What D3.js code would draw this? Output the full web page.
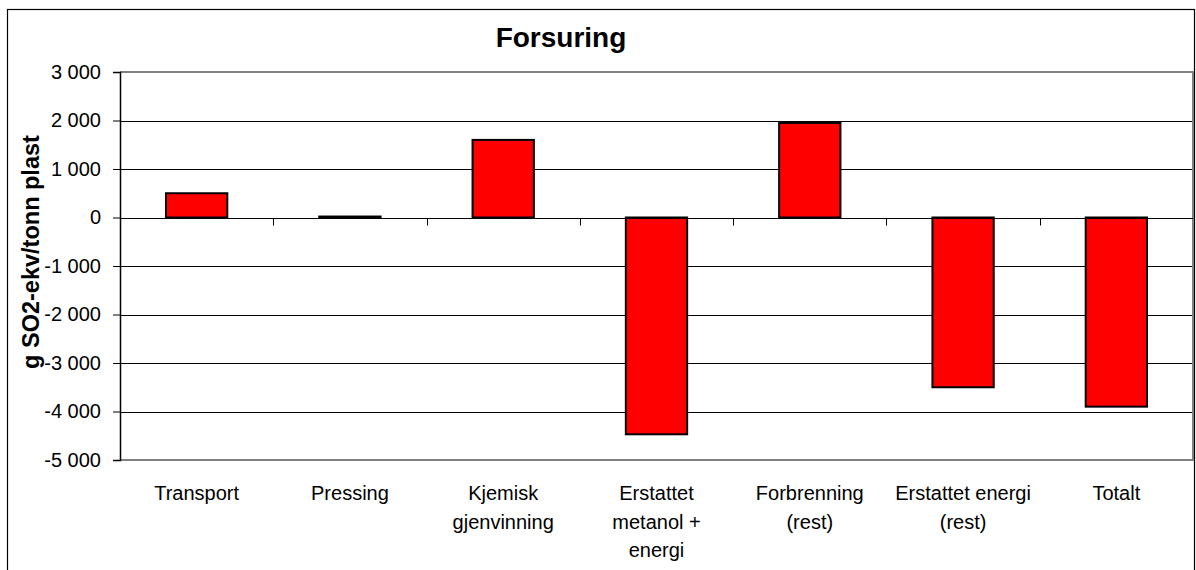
<!DOCTYPE html>
<html>
<head>
<meta charset="utf-8">
<script src="https://cdn.jsdelivr.net/npm/d3@7"></script>
<style>
  html, body { margin: 0; padding: 0; background: #fff; }
  svg { display: block; font-family: "Liberation Sans", Arial, sans-serif; }
</style>
</head>
<body>
<svg id="chart" width="1196" height="570"></svg>
<script>
// Forsuring (acidification) per process step, g SO2-ekv per tonn plast
const categories = [
  ["Transport"],
  ["Pressing"],
  ["Kjemisk", "gjenvinning"],
  ["Erstattet", "metanol +", "energi"],
  ["Forbrenning", "(rest)"],
  ["Erstattet energi", "(rest)"],
  ["Totalt"]
];
const values = [500, 20, 1600, -4470, 1950, -3500, -3900];
const yTicks = [3000, 2000, 1000, 0, -1000, -2000, -3000, -4000, -5000];
const titleText = "Forsuring";
const yTitle = "g SO2-ekv/tonn plast";

const svg = d3.select("#chart");
const plot = { left: 120, right: 1193, top: 72, bottom: 460 };

const keys = categories.map((c, i) => i);
const x = d3.scaleBand().domain(keys).range([plot.left, plot.right]).paddingInner(0).paddingOuter(0);
const y = d3.scaleLinear().domain([-5000, 3000]).range([plot.bottom, plot.top]);

// outer chart frame
svg.append("rect")
  .attr("x", 7.5).attr("y", 9.5)
  .attr("width", 1187).attr("height", 570)
  .attr("fill", "#fff").attr("stroke", "#000").attr("stroke-width", 1.2);

// title
svg.append("text")
  .attr("x", 561).attr("y", 47)
  .attr("text-anchor", "middle")
  .attr("font-size", 28).attr("font-weight", "bold")
  .text(titleText);

// horizontal gridlines
svg.append("g")
  .selectAll("line")
  .data(yTicks.filter(t => t !== 3000 && t !== -5000 && t !== 0))
  .join("line")
  .attr("x1", plot.left).attr("x2", plot.right)
  .attr("y1", d => Math.round(y(d)) + 0.5).attr("y2", d => Math.round(y(d)) + 0.5)
  .attr("stroke", "#000").attr("stroke-width", 1);

// plot area border (top, right, bottom)
svg.append("path")
  .attr("d", `M${plot.left},${plot.top} H${plot.right} V${plot.bottom} H${plot.left}`)
  .attr("fill", "none").attr("stroke", "#808080").attr("stroke-width", 2);

// bars
const barW = x.bandwidth() / 2.5;
svg.append("g")
  .selectAll("rect")
  .data(values)
  .join("rect")
  .attr("x", (d, i) => x(i) + (x.bandwidth() - barW) / 2)
  .attr("width", barW)
  .attr("y", d => y(Math.max(0, d)))
  .attr("height", d => Math.abs(y(d) - y(0)))
  .attr("fill", "#ff0000")
  .attr("stroke", "#000").attr("stroke-width", 2);

// zero line with category boundary ticks
const y0 = Math.round(y(0)) + 0.5;
svg.append("line")
  .attr("x1", plot.left).attr("x2", plot.right)
  .attr("y1", y0).attr("y2", y0)
  .attr("stroke", "#000").attr("stroke-width", 1);
svg.append("g")
  .selectAll("line")
  .data(keys.slice(1))
  .join("line")
  .attr("x1", d => Math.round(x(d)) + 0.5).attr("x2", d => Math.round(x(d)) + 0.5)
  .attr("y1", y0).attr("y2", y0 + 7)
  .attr("stroke", "#000").attr("stroke-width", 1);

// y axis
const fmt = v => {
  const s = d3.format(",")(Math.abs(v)).replace(/,/g, " ");
  return (v < 0 ? "-" : "") + s;
};
const yAxis = d3.axisLeft(y).tickValues(yTicks).tickSize(7).tickPadding(12).tickFormat(fmt);
const gy = svg.append("g")
  .attr("transform", `translate(${plot.left},0)`)
  .call(yAxis);
gy.select(".domain").attr("stroke", "#000").attr("stroke-width", 1.5);
gy.selectAll(".tick line").attr("stroke", "#000");
gy.selectAll(".tick text")
  .attr("font-size", 20)
  .attr("font-family", "Liberation Sans, Arial, sans-serif")
  .attr("fill", "#000");

// y title
svg.append("text")
  .attr("transform", "translate(39,252) rotate(-90)")
  .attr("text-anchor", "middle")
  .attr("font-size", 23.5).attr("font-weight", "bold")
  .text(yTitle);

// category labels
const lab = svg.append("g")
  .selectAll("text")
  .data(categories)
  .join("text")
  .attr("text-anchor", "middle")
  .attr("font-size", 20)
  .attr("x", (d, i) => x(i) + x.bandwidth() / 2)
  .attr("y", 500);
lab.selectAll("tspan")
  .data(d => d)
  .join("tspan")
  .attr("x", function () { return d3.select(this.parentNode).attr("x"); })
  .attr("dy", (d, i) => i === 0 ? 0 : 28.5)
  .text(d => d);
</script>
</body>
</html>
